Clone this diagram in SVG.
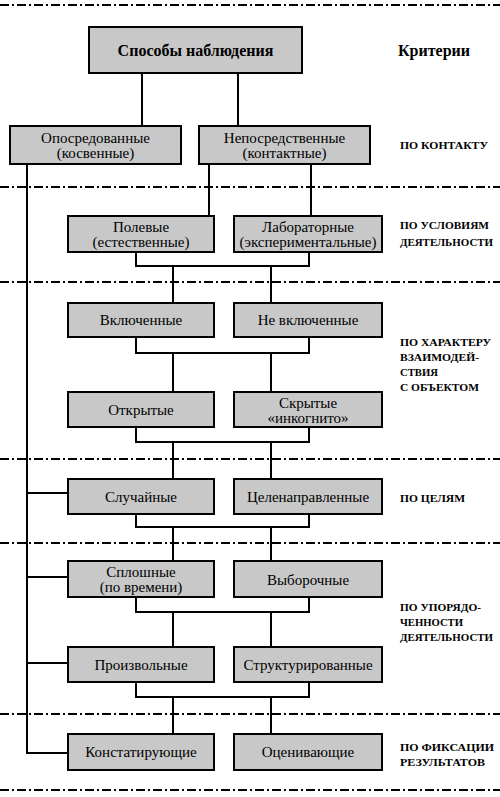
<svg xmlns="http://www.w3.org/2000/svg" width="500" height="797" viewBox="0 0 500 797">
<style>
.box{fill:#c8c8c8;stroke:#000;stroke-width:2}
.t{font-family:"Liberation Serif","Times New Roman",serif;font-size:15px;fill:#000;text-anchor:middle}
.tb{font-family:"Liberation Serif","Times New Roman",serif;font-size:16px;font-weight:bold;fill:#000;text-anchor:middle}
.c{font-family:"Liberation Serif","Times New Roman",serif;font-size:11px;font-weight:bold;fill:#000}
.sep{stroke:#000;stroke-width:2;stroke-dasharray:9 3 2 3;fill:none}
.ln{stroke:#000;stroke-width:2;fill:none}
</style>
<rect width="500" height="797" fill="#fff"/>
<g id="separators">
<line class="sep" x1="0" y1="5" x2="500" y2="5"/>
<line class="sep" x1="0" y1="187" x2="500" y2="187"/>
<line class="sep" x1="0" y1="282" x2="500" y2="282"/>
<line class="sep" x1="0" y1="459" x2="500" y2="459"/>
<line class="sep" x1="0" y1="543" x2="500" y2="543"/>
<line class="sep" x1="0" y1="714" x2="500" y2="714"/>
<line class="sep" x1="0" y1="790" x2="500" y2="790"/>
</g>
<g id="connectors">
<path class="ln" d="M142 73V126M238 73V126"/>
<path class="ln" d="M27 164V753H68M27 493H68M27 577H68M27 663H68"/>
<path class="ln" d="M209 164V216M311 164V216"/>
<path class="ln" d="M136 252V266H309V252M173 266V303M271 266V303"/>
<path class="ln" d="M136 337V353H309V337M173 353V392M271 353V392"/>
<path class="ln" d="M136 427V442H309V427M173 442V479M271 442V479"/>
<path class="ln" d="M136 514V527H309V514M173 527V561M271 527V561"/>
<path class="ln" d="M136 597V612H309V597M173 612V647M271 612V647"/>
<path class="ln" d="M136 682V697H309V682M173 697V734M271 697V734"/>
</g>
<g id="root"><rect class="box" x="89" y="27" width="213" height="46"/><text class="tb" x="195.5" y="56">Способы наблюдения</text></g>
<g id="oposr"><rect class="box" x="10" y="126" width="171" height="38"/><text class="t" x="95.5" y="143">Опосредованные</text><text class="t" x="95.5" y="158">(косвенные)</text></g>
<g id="neposr"><rect class="box" x="199" y="126" width="171" height="38"/><text class="t" x="284.5" y="143">Непосредственные</text><text class="t" x="284.5" y="158">(контактные)</text></g>
<g id="polevye"><rect class="box" x="68" y="216" width="146" height="36"/><text class="t" x="141" y="232">Полевые</text><text class="t" x="141" y="247">(естественные)</text></g>
<g id="labor"><rect class="box" x="234" y="216" width="148" height="36"/><text class="t" x="308" y="232">Лабораторные</text><text class="t" x="308" y="247">(экспериментальные)</text></g>
<g id="vkl"><rect class="box" x="68" y="303" width="146" height="34"/><text class="t" x="141" y="325">Включенные</text></g>
<g id="nevkl"><rect class="box" x="234" y="303" width="148" height="34"/><text class="t" x="308" y="325">Не включенные</text></g>
<g id="otkr"><rect class="box" x="68" y="392" width="146" height="35"/><text class="t" x="141" y="415">Открытые</text></g>
<g id="skryt"><rect class="box" x="234" y="392" width="148" height="35"/><text class="t" x="308" y="408">Скрытые</text><text class="t" x="308" y="423">«инкогнито»</text></g>
<g id="sluch"><rect class="box" x="68" y="479" width="146" height="35"/><text class="t" x="141" y="502">Случайные</text></g>
<g id="celen"><rect class="box" x="234" y="479" width="148" height="35"/><text class="t" x="308" y="502">Целенаправленные</text></g>
<g id="splosh"><rect class="box" x="68" y="561" width="146" height="36"/><text class="t" x="141" y="577">Сплошные</text><text class="t" x="141" y="592">(по времени)</text></g>
<g id="vybor"><rect class="box" x="234" y="561" width="148" height="36"/><text class="t" x="308" y="585">Выборочные</text></g>
<g id="proizv"><rect class="box" x="68" y="647" width="146" height="35"/><text class="t" x="141" y="670">Произвольные</text></g>
<g id="strukt"><rect class="box" x="234" y="647" width="148" height="35"/><text class="t" x="308" y="670">Структурированные</text></g>
<g id="konst"><rect class="box" x="68" y="734" width="146" height="36"/><text class="t" x="141" y="757">Констатирующие</text></g>
<g id="ocen"><rect class="box" x="234" y="734" width="148" height="36"/><text class="t" x="308" y="757">Оценивающие</text></g>
<g id="criteria">
<text class="tb" x="434" y="56">Критерии</text>
<text class="c" x="400" y="149" textLength="88" lengthAdjust="spacingAndGlyphs">ПО КОНТАКТУ</text>
<text class="c" x="400" y="229" textLength="89" lengthAdjust="spacingAndGlyphs">ПО УСЛОВИЯМ</text>
<text class="c" x="400" y="246" textLength="93" lengthAdjust="spacingAndGlyphs">ДЕЯТЕЛЬНОСТИ</text>
<text class="c" x="400" y="346" textLength="91" lengthAdjust="spacingAndGlyphs">ПО ХАРАКТЕРУ</text>
<text class="c" x="400" y="361" textLength="79" lengthAdjust="spacingAndGlyphs">ВЗАИМОДЕЙ-</text>
<text class="c" x="400" y="376" textLength="38" lengthAdjust="spacingAndGlyphs">СТВИЯ</text>
<text class="c" x="400" y="391" textLength="79" lengthAdjust="spacingAndGlyphs">С ОБЪЕКТОМ</text>
<text class="c" x="400" y="502" textLength="65" lengthAdjust="spacingAndGlyphs">ПО ЦЕЛЯМ</text>
<text class="c" x="400" y="611" textLength="81" lengthAdjust="spacingAndGlyphs">ПО УПОРЯДО-</text>
<text class="c" x="400" y="626" textLength="63" lengthAdjust="spacingAndGlyphs">ЧЕННОСТИ</text>
<text class="c" x="400" y="641" textLength="93" lengthAdjust="spacingAndGlyphs">ДЕЯТЕЛЬНОСТИ</text>
<text class="c" x="400" y="751" textLength="94" lengthAdjust="spacingAndGlyphs">ПО ФИКСАЦИИ</text>
<text class="c" x="400" y="766" textLength="85" lengthAdjust="spacingAndGlyphs">РЕЗУЛЬТАТОВ</text>
</g>
</svg>
